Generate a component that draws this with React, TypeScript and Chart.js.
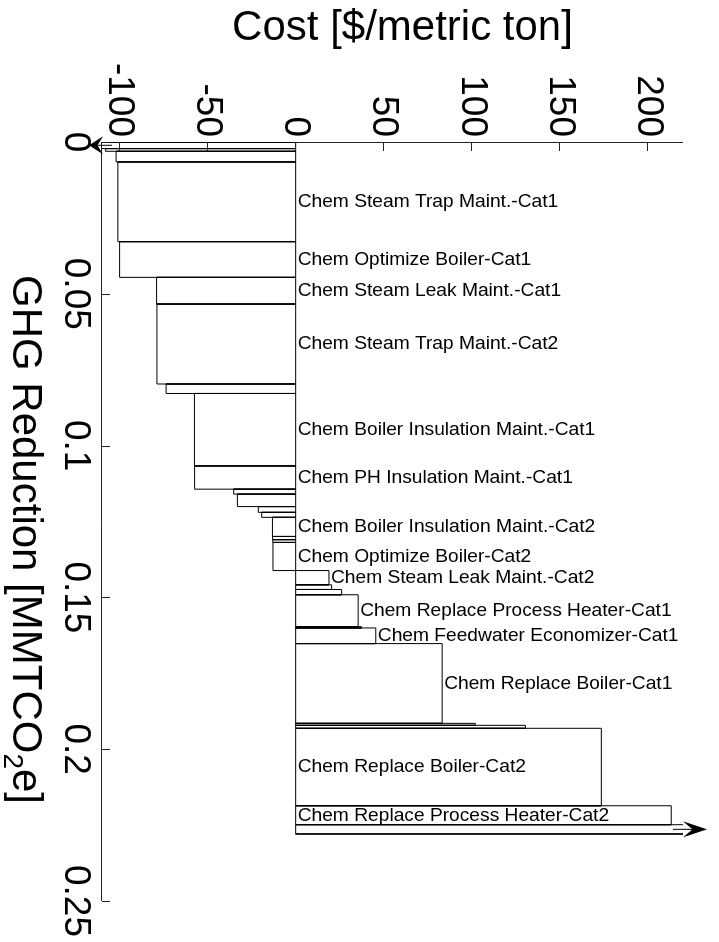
import React, { useEffect, useRef } from "react";
import { Chart, registerables } from "chart.js";

Chart.register(...registerables);

// ---- Data (marginal abatement cost curve, measures in order) ----
const measureLabels: string[] = [
  "",
  "",
  "",
  "Chem Steam Trap Maint.-Cat1",
  "Chem Optimize Boiler-Cat1",
  "Chem Steam Leak Maint.-Cat1",
  "Chem Steam Trap Maint.-Cat2",
  "",
  "Chem Boiler Insulation Maint.-Cat1",
  "Chem PH Insulation Maint.-Cat1",
  "",
  "",
  "",
  "",
  "Chem Boiler Insulation Maint.-Cat2",
  "",
  "",
  "Chem Optimize Boiler-Cat2",
  "Chem Steam Leak Maint.-Cat2",
  "",
  "",
  "Chem Replace Process Heater-Cat1",
  "",
  "Chem Feedwater Economizer-Cat1",
  "Chem Replace Boiler-Cat1",
  "",
  "",
  "Chem Replace Boiler-Cat2",
  "Chem Replace Process Heater-Cat2",
  "",
];

// GHG reduction of each measure [MMTCO2e]
const ghgReductions: number[] = [
  0.00217, 0.00089, 0.00351, 0.02626, 0.01175, 0.0088, 0.02633, 0.00312,
  0.02387, 0.00765, 0.00164, 0.0041, 0.0019, 0.00164, 0.0063, 0.00105,
  0.00092, 0.00926, 0.00469, 0.00154, 0.00174, 0.01051, 0.00043, 0.00515,
  0.02626, 0.00066, 0.00098, 0.02551, 0.00624, 0.00305,
];

// Cost of each measure [$/metric ton]
const costs: number[] = [
  -300, -108, -102, -101, -100, -79, -78.8, -73.6, -57.5, -57.4, -35.2, -33.1,
  -21.2, -19.3, -13.2, -13.1, -13.0, -12.9, 18.9, 20.4, 26.1, 35.5, 37.4,
  45.5, 83.2, 102, 130.5, 173.6, 213.3, 300,
];

const costTicks: number[] = [-100, -50, 0, 50, 100, 150, 200];
const costTickLabels: string[] = ["-100", "-50", "0", "50", "100", "150", "200"];
const ghgTicks: number[] = [0, 0.05, 0.1, 0.15, 0.2, 0.25];
const ghgTickLabels: string[] = ["0", "0.05", "0.1", "0.15", "0.2", "0.25"];

const costTitle = "Cost [$/metric ton]";
const ghgTitleParts: string[] = ["GHG Reduction [MMTCO", "2", "e]"];

const costMin = -110;
const costMax = 220;
const ghgMin = 0;
const ghgMax = 0.25;

const FAMILY = '"Liberation Sans", Arial, Helvetica, sans-serif';

const maccPlugin = {
  id: "maccDecor",
  afterDatasetsDraw(chart: any) {
    const { ctx, chartArea } = chart;
    const xs = chart.scales.x;
    const ys = chart.scales.y;
    ctx.save();
    ctx.strokeStyle = "#222";
    ctx.fillStyle = "#000";
    ctx.lineWidth = 1;

    // inward tick marks
    costTicks.forEach((v) => {
      const py = Math.round(ys.getPixelForValue(v)) + 0.5;
      ctx.beginPath();
      ctx.moveTo(chartArea.left, py);
      ctx.lineTo(chartArea.left + 9, py);
      ctx.stroke();
    });
    ghgTicks.forEach((v) => {
      const px = Math.round(xs.getPixelForValue(v)) + 0.5;
      ctx.beginPath();
      ctx.moveTo(px, chartArea.bottom);
      ctx.lineTo(px, chartArea.bottom - 8);
      ctx.stroke();
    });

    const drawArrow = (cx: number, from: number, to: number, headLen: number, hw: number) => {
      const d = Math.sign(to - from);
      ctx.strokeStyle = "#000";
      ctx.beginPath();
      ctx.moveTo(cx, from);
      ctx.lineTo(cx, to - d * headLen * 0.6);
      ctx.stroke();
      ctx.beginPath();
      ctx.moveTo(cx, to);
      ctx.lineTo(cx - hw, to - d * headLen);
      ctx.lineTo(cx, to - d * headLen * 0.6);
      ctx.lineTo(cx + hw, to - d * headLen);
      ctx.closePath();
      ctx.fill();
    };

    // bar labels and out-of-range arrows
    ctx.font = `19.2px ${FAMILY}`;
    ctx.textAlign = "left";
    ctx.textBaseline = "middle";
    let acc = 0;
    measureLabels.forEach((lab, i) => {
      const x0 = acc;
      const x1 = acc + ghgReductions[i];
      acc = x1;
      const c = costs[i];
      const cx = xs.getPixelForValue((x0 + x1) / 2);
      if (c > costMax) {
        drawArrow(cx, chartArea.top + 10, chartArea.top - 24, 24, 8);
      } else if (c < costMin) {
        drawArrow(cx, chartArea.bottom - 10, chartArea.bottom + 13, 14, 9);
      }
      if (!lab) return;
      const w = ctx.measureText(lab).width;
      let start = ys.getPixelForValue(Math.max(0, c));
      if (start - w - 2 < chartArea.top - 40) start = ys.getPixelForValue(0);
      ctx.save();
      ctx.translate(cx, start);
      ctx.rotate(-Math.PI / 2);
      ctx.fillStyle = "#000";
      ctx.fillText(lab, 2, 0);
      ctx.restore();
    });

    // axis titles
    ctx.fillStyle = "#000";
    ctx.textBaseline = "alphabetic";
    // cost axis title (vertical in canvas)
    ctx.font = `42px ${FAMILY}`;
    ctx.save();
    ctx.translate(40, (chartArea.top + chartArea.bottom) / 2 - 10);
    ctx.rotate(-Math.PI / 2);
    ctx.textAlign = "center";
    ctx.fillText(costTitle, 0, 0);
    ctx.restore();

    // GHG axis title with subscript
    const mainFont = `42px ${FAMILY}`;
    const subFont = `28px ${FAMILY}`;
    ctx.textAlign = "left";
    ctx.font = mainFont;
    const w1 = ctx.measureText(ghgTitleParts[0]).width;
    const w3 = ctx.measureText(ghgTitleParts[2]).width;
    ctx.font = subFont;
    const w2 = ctx.measureText(ghgTitleParts[1]).width;
    const total = w1 + w2 + w3;
    let tx = (chartArea.left + chartArea.right) / 2 + 18 - total / 2;
    const base = chart.height - 13;
    ctx.font = mainFont;
    ctx.fillText(ghgTitleParts[0], tx, base);
    tx += w1;
    ctx.font = subFont;
    ctx.fillText(ghgTitleParts[1], tx, base + 9);
    tx += w2;
    ctx.font = mainFont;
    ctx.fillText(ghgTitleParts[2], tx, base);

    ctx.restore();
  },
};

export default function App() {
  const ref = useRef<HTMLCanvasElement | null>(null);

  useEffect(() => {
    if (!ref.current) return;
    let acc = 0;
    const datasets = costs.map((c, i) => {
      const x0 = acc;
      const x1 = acc + ghgReductions[i];
      acc = x1;
      return {
        label: measureLabels[i] || `m${i}`,
        data: [
          { x: x0, y: 0 },
          { x: x0, y: c },
          { x: x1, y: c },
          { x: x1, y: 0 },
          { x: x0, y: 0 },
        ],
        showLine: true,
        borderColor: "#000",
        borderWidth: 1,
        pointRadius: 0,
        pointHoverRadius: 0,
        fill: false,
        tension: 0,
        clip: 0,
      };
    });

    const chart = new Chart(ref.current, {
      type: "scatter",
      data: { datasets } as any,
      plugins: [maccPlugin as any],
      options: {
        responsive: false,
        animation: false,
        devicePixelRatio: 1,
        events: [],
        layout: { padding: { top: 36, right: 39, left: 0, bottom: 0 } },
        plugins: { legend: { display: false }, tooltip: { enabled: false } },
        scales: {
          x: {
            type: "linear",
            position: "bottom",
            min: ghgMin,
            max: ghgMax,
            afterBuildTicks: (s: any) => {
              s.ticks = ghgTicks.map((v) => ({ value: v }));
            },
            afterFit: (s: any) => {
              s.height = 102;
            },
            grid: { display: false, drawTicks: false },
            border: { display: true, color: "#222", width: 1 },
            ticks: {
              color: "#000",
              font: { size: 37, family: FAMILY },
              padding: 5,
              maxRotation: 0,
              minRotation: 0,
              autoSkip: false,
              callback: (_v: any, idx: number) => ghgTickLabels[idx],
            },
            title: { display: false },
          },
          y: {
            type: "linear",
            position: "left",
            min: costMin,
            max: costMax,
            afterBuildTicks: (s: any) => {
              s.ticks = costTicks.map((v) => ({ value: v }));
            },
            afterFit: (s: any) => {
              s.width = 142;
            },
            grid: { display: false, drawTicks: false },
            border: { display: true, color: "#222", width: 1 },
            ticks: {
              color: "#000",
              font: { size: 37, family: FAMILY },
              padding: 5,
              autoSkip: false,
              callback: (_v: any, idx: number) => costTickLabels[idx],
            },
            title: { display: false },
          },
        },
      } as any,
    });
    return () => chart.destroy();
  }, []);

  return (
    <div
      style={{
        position: "absolute",
        left: 0,
        top: 0,
        width: 719,
        height: 942,
        overflow: "hidden",
        background: "#fff",
      }}
    >
      <div
        style={{
          position: "absolute",
          left: 0,
          top: 0,
          width: 942,
          height: 719,
          transformOrigin: "0 0",
          transform: "translate(719px, 0) rotate(90deg)",
        }}
      >
        <canvas
          ref={ref}
          width={942}
          height={719}
          style={{ display: "block", width: 942, height: 719 }}
        />
      </div>
    </div>
  );
}
